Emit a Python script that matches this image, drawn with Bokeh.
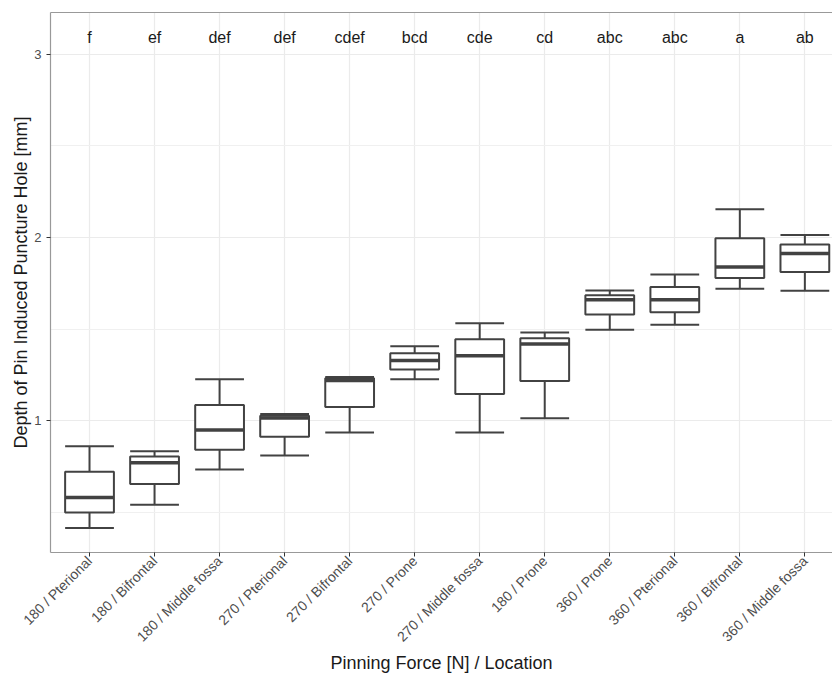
import math
import numpy as np
from bokeh.plotting import figure
from bokeh.models import Range1d, FixedTicker, LinearAxis
from bokeh.core.properties import value
from bokeh.embed import file_html
from bokeh.resources import INLINE

categories = ["180 / Pterional", "180 / Bifrontal", "180 / Middle fossa", "270 / Pterional",
              "270 / Bifrontal", "270 / Prone", "270 / Middle fossa", "180 / Prone",
              "360 / Prone", "360 / Pterional", "360 / Bifrontal", "360 / Middle fossa"]
lower = [0.415, 0.542, 0.734, 0.810, 0.936, 1.226, 0.936, 1.013, 1.496, 1.523, 1.720, 1.709]
q1 = [0.499, 0.655, 0.841, 0.912, 1.075, 1.279, 1.146, 1.217, 1.580, 1.592, 1.778, 1.811]
median = [0.581, 0.770, 0.949, 1.015, 1.219, 1.328, 1.355, 1.419, 1.660, 1.660, 1.838, 1.912]
q3 = [0.721, 0.805, 1.086, 1.027, 1.231, 1.368, 1.445, 1.450, 1.685, 1.729, 1.995, 1.961]
upper = [0.860, 0.834, 1.226, 1.037, 1.239, 1.406, 1.532, 1.481, 1.711, 1.798, 2.154, 2.013]
letters = ["f", "ef", "def", "def", "cdef", "bcd", "cde", "cd", "abc", "abc", "a", "ab"]
letter_y = 3.093
y_ticks = [1, 2, 3]
y_minor = [0.5, 1.5, 2.5]

FONT = "Liberation Sans"
BOX = "#424242"

xs = np.arange(1, len(categories) + 1)
hw = 0.375

p = figure(width=832, height=676, output_backend="svg", toolbar_location=None,
           x_range=Range1d(0.4, 12.425), y_range=Range1d(0.281, 3.227),
           min_border_left=50, min_border_right=0, min_border_top=12, min_border_bottom=0)
p.outline_line_color = None
p.background_fill_color = "white"
p.border_fill_color = "white"

# grids
p.xgrid.ticker = FixedTicker(ticks=list(xs))
p.xgrid.grid_line_color = "#ebebeb"
p.xgrid.grid_line_width = 1.2
p.ygrid.ticker = FixedTicker(ticks=y_ticks, minor_ticks=y_minor)
p.ygrid.grid_line_color = "#ebebeb"
p.ygrid.grid_line_width = 1.2
p.ygrid.minor_grid_line_color = "#f0f0f0"
p.ygrid.minor_grid_line_width = 1

# x axis
xa = p.xaxis[0]
xa.ticker = FixedTicker(ticks=list(xs))
xa.major_label_overrides = {int(i): c for i, c in zip(xs, categories)}
xa.major_label_orientation = math.pi / 4
xa.major_label_text_font = FONT
xa.major_label_text_font_size = "14px"
xa.major_label_text_color = "#4d4d4d"
xa.major_label_standoff = 2
xa.major_tick_out = 4
xa.major_tick_in = 0
xa.minor_tick_out = 0
xa.major_tick_line_color = "#333333"
xa.axis_line_color = "#999999"
xa.axis_line_width = 1.2
xa.axis_label = "Pinning Force [N] / Location"
xa.axis_label_text_font = FONT
xa.axis_label_text_font_size = "18px"
xa.axis_label_text_font_style = "normal"
xa.axis_label_text_color = "#1a1a1a"
xa.axis_label_standoff = 0

# y axis
ya = p.yaxis[0]
ya.ticker = FixedTicker(ticks=y_ticks, minor_ticks=y_minor)
ya.major_label_text_font = FONT
ya.major_label_text_font_size = "13px"
ya.major_label_text_color = "#4d4d4d"
ya.major_label_standoff = 5
ya.major_tick_out = 4
ya.major_tick_in = 0
ya.minor_tick_out = 0
ya.minor_tick_in = 0
ya.major_tick_line_color = "#333333"
ya.axis_line_color = "#999999"
ya.axis_line_width = 1.2
ya.axis_label = "Depth of Pin Induced Puncture Hole [mm]"
ya.axis_label_text_font = FONT
ya.axis_label_text_font_size = "18px"
ya.axis_label_text_font_style = "normal"
ya.axis_label_text_color = "#1a1a1a"
ya.axis_label_standoff = 0

# top border line
top = LinearAxis(ticker=FixedTicker(ticks=[]), major_label_text_font_size="0px",
                 major_tick_out=0, major_tick_in=0, minor_tick_out=0, minor_tick_in=0,
                 axis_line_color="#999999", axis_line_width=1.2, major_label_standoff=0)
p.add_layout(top, "above")

# whiskers
p.segment(x0=xs, x1=xs, y0=q3, y1=upper, line_color=BOX, line_width=2)
p.segment(x0=xs, x1=xs, y0=q1, y1=lower, line_color=BOX, line_width=2)
# caps
p.segment(x0=xs - hw, x1=xs + hw, y0=upper, y1=upper, line_color=BOX, line_width=2)
p.segment(x0=xs - hw, x1=xs + hw, y0=lower, y1=lower, line_color=BOX, line_width=2)
# boxes
p.vbar(x=xs, width=2 * hw, top=q3, bottom=q1, fill_color="white", line_color=BOX, line_width=2)
# medians
p.segment(x0=xs - hw, x1=xs + hw, y0=median, y1=median, line_color=BOX, line_width=3.5)

# letters
p.text(x=xs, y=[letter_y] * len(xs), text=letters, text_align="center", text_baseline="middle",
       text_font=value(FONT), text_font_size="16px", text_color="#1a1a1a")

open("out.html", "w").write(file_html(p, INLINE))
